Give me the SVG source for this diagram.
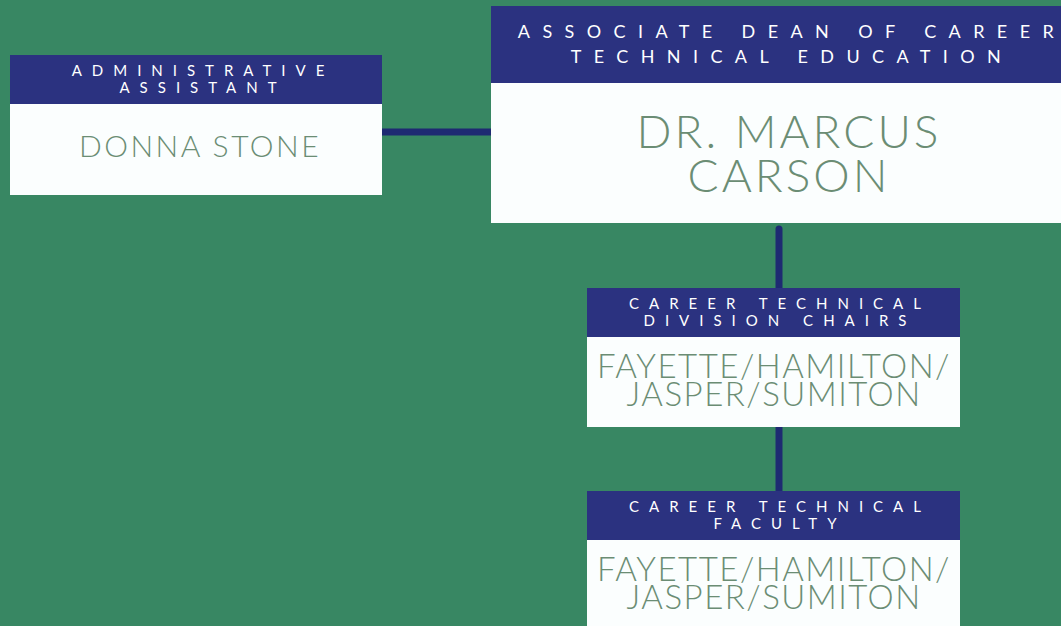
<svg xmlns="http://www.w3.org/2000/svg" width="1061" height="626" viewBox="0 0 1061 626">
<style>
.hd{fill:#2b3280}
.bd{fill:#fbfefe}
.lab{font-family:Lato,"Liberation Sans",sans-serif;fill:#ffffff;text-anchor:middle}
.s{font-size:15px;letter-spacing:10px}
.b{font-size:18px;letter-spacing:12.4px}
.nm{font-family:Lato,"Liberation Sans",sans-serif;font-weight:300;fill:#6b8d74;text-anchor:middle}
.con{stroke:#1e2a72;stroke-width:7;stroke-linecap:round;fill:none}
</style>
<rect width="1061" height="626" fill="#388763"/>
<g id="connectors">
<line class="con" x1="382" y1="132" x2="491" y2="132" style="stroke-linecap:butt"/>
<line class="con" x1="779" y1="229" x2="779" y2="290"/>
<line class="con" x1="779" y1="427" x2="779" y2="491" style="stroke-linecap:butt"/>
</g>
<g id="admin">
<rect class="hd" x="10" y="55" width="372" height="49"/>
<rect class="bd" x="10" y="104" width="372" height="91"/>
<text class="lab s" x="203" y="76">ADMINISTRATIVE</text>
<text class="lab s" x="203" y="93">ASSISTANT</text>
<text class="nm" x="200" y="157" font-size="30" letter-spacing="2.5">DONNA STONE</text>
</g>
<g id="dean">
<rect class="hd" x="491" y="6" width="570" height="77"/>
<rect class="bd" x="491" y="83" width="570" height="140"/>
<text class="lab b" x="792" y="38">ASSOCIATE DEAN OF CAREER</text>
<text class="lab b" x="792" y="63">TECHNICAL EDUCATION</text>
<text class="nm" x="789" y="148" font-size="46" letter-spacing="3">DR. MARCUS</text>
<text class="nm" x="789" y="192" font-size="46" letter-spacing="3">CARSON</text>
</g>
<g id="chairs">
<rect class="hd" x="587" y="288" width="373" height="49"/>
<rect class="bd" x="587" y="337" width="373" height="90"/>
<text class="lab s" x="780" y="309">CAREER TECHNICAL</text>
<text class="lab s" x="780" y="326">DIVISION CHAIRS</text>
<text class="nm" x="774" y="378" font-size="33" letter-spacing="1.5">FAYETTE/HAMILTON/</text>
<text class="nm" x="774" y="406" font-size="33" letter-spacing="1.5">JASPER/SUMITON</text>
</g>
<g id="faculty">
<rect class="hd" x="587" y="491" width="373" height="49"/>
<rect class="bd" x="587" y="540" width="373" height="86"/>
<text class="lab s" x="780" y="512">CAREER TECHNICAL</text>
<text class="lab s" x="780" y="529">FACULTY</text>
<text class="nm" x="774" y="581" font-size="33" letter-spacing="1.5">FAYETTE/HAMILTON/</text>
<text class="nm" x="774" y="609" font-size="33" letter-spacing="1.5">JASPER/SUMITON</text>
</g>
</svg>
